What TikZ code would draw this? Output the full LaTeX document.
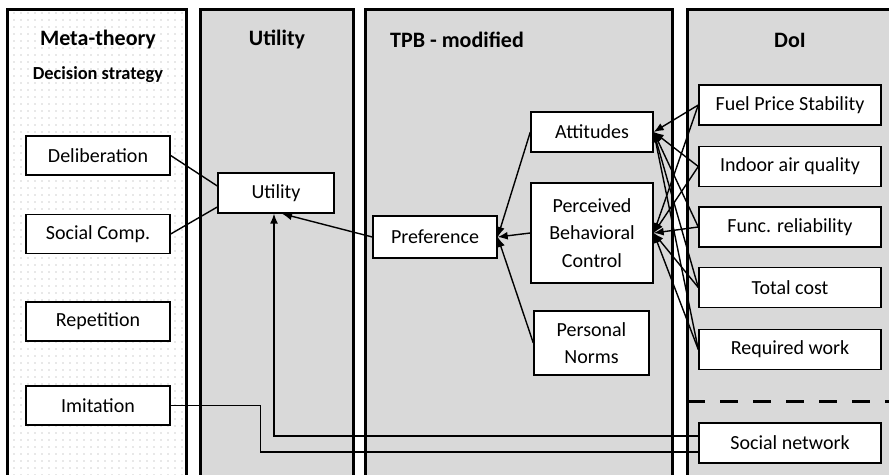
\documentclass[tikz,border=0pt]{standalone}
\usepackage{fontspec}
\setmainfont{Carlito}
\usetikzlibrary{arrows.meta}
\usetikzlibrary{patterns.meta}

\begin{document}
\begin{tikzpicture}[
        x=0.5pt, y=-0.5pt,
        panel/.style={fill=black!15, draw=black, line width=1.5pt},
        box/.style={draw=black, fill=white, line width=0.7pt, align=center, inner sep=1pt,
                    font=\fontsize{10}{13.8}\selectfont},
        heading/.style={font=\fontsize{11}{13}\selectfont\bfseries},
        link/.style={draw=black, line width=0.7pt},
        arrow/.style={link, -{Latex[length=5pt, width=4pt]}}
    ]
        \useasboundingbox (0,0) rectangle (889,475);
        \clip (0,0) rectangle (889,475);

        % 背景栏
        \fill[white] (7,490) rectangle (186,10);
        \path[pattern={Dots[distance=3.5pt, radius=0.45pt]}, pattern color=black!18] (7,490) rectangle (186,10);
        \draw[line width=1.5pt] (7,490) -- (7,10) -- (186,10) -- (186,490);
        \foreach \xa/\xb in {200/353, 365/672, 687/900} {
            \filldraw[panel] (\xa,490) -- (\xa,10) -- (\xb,10) -- (\xb,490);
        }
        \draw[line width=1.5pt, dash pattern=on 9pt off 7.5pt] (687,402) -- (889,402);

        % 标题
        \node[heading] (Meta-title) at (98,40) {Meta-theory};
        \node[heading, font=\fontsize{9.2}{11}\selectfont\bfseries] (Meta-sub) at (98,75) {Decision strategy};
        \node[heading] (Utility-title) at (277,40) {Utility};
        \node[heading] (TPB-title) at (457,40) {TPB - modified};
        \node[heading] (DoI-title) at (790,40) {DoI};

        % 决策策略
        \foreach \i/\txt/\y in {1/Deliberation/155.5, 2/Social Comp./234, 3/Repetition/321.5, 4/Imitation/405.5} {
            \node[box, minimum width=72pt, minimum height=19.5pt] (Meta-\i) at (98,\y) {\txt};
        }

        % 效用与TPB
        \node[box, minimum width=58pt, minimum height=20pt] (Utility) at (276,193) {Utility};
        \node[box, minimum width=62pt, minimum height=21pt] (Preference) at (435,237) {Preference};
        \node[box, minimum width=61pt, minimum height=20pt] (Attitudes) at (592,132) {Attitudes};
        \node[box, minimum width=61pt, minimum height=50pt] (PBC) at (592,233) {Perceived\\Behavioral\\Control};
        \node[box, minimum width=57.5pt, minimum height=32pt] (Norms) at (591.5,343) {Personal\\Norms};

        % DoI 因素
        \foreach \i/\txt/\y in {1/Fuel Price Stability/105, 2/Indoor air quality/166.5, 3/Func. reliability/227,
                                4/Total cost/287.5, 5/Required work/349.5, 6/Social network/443} {
            \node[box, minimum width=91pt, minimum height=20pt] (DoI-\i) at (790,\y) {\txt};
        }

        % 策略 → Utility
        \draw[link] (Meta-1.east) -- ([yshift=3.5pt]Utility.west);
        \draw[link] (Meta-2.east) -- ([yshift=-7pt]Utility.west);
        \draw[link] (Meta-4.east) -- ++(45pt,0) |- ([yshift=-4.5pt]DoI-6.west);

        % Preference → Utility
        \draw[arrow] (Preference.west) -- ([xshift=3pt]Utility.south);
        \draw[arrow] ([yshift=3.5pt]DoI-6.west) -| ([xshift=-1pt]Utility.south);

        % TPB → Preference
        \foreach \src in {Attitudes, PBC, Norms} {
            \draw[arrow] (\src.west) -- (Preference.east);
        }

        % DoI → Attitudes / PBC
        \foreach \i in {1,...,5} {
            \draw[arrow] (DoI-\i.west) -- (Attitudes.east);
            \draw[arrow] (DoI-\i.west) -- (PBC.east);
        }

    \end{tikzpicture}
\end{document}
